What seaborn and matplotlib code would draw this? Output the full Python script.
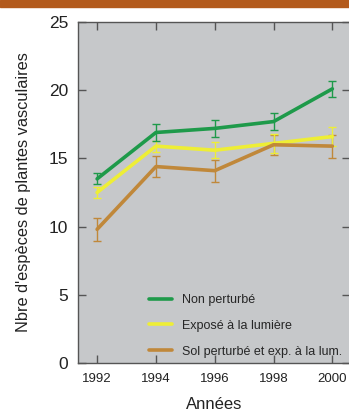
import matplotlib
matplotlib.use("Agg")
import matplotlib.pyplot as plt
import matplotlib.patches as patches
import pandas as pd
import seaborn as sns

annees = [1992, 1994, 1996, 1998, 2000]
series = ["Non perturbé", "Exposé à la lumière", "Sol perturbé et exp. à la lum."]
non_perturbe = [13.5, 16.9, 17.2, 17.7, 20.1]
non_perturbe_err = [0.4, 0.6, 0.6, 0.6, 0.6]
expose = [12.5, 15.9, 15.6, 16.1, 16.6]
expose_err = [0.4, 0.4, 0.6, 0.7, 0.7]
sol_perturbe = [9.8, 14.4, 14.1, 16.0, 15.9]
sol_perturbe_err = [0.85, 0.8, 0.8, 0.75, 0.85]
couleurs = ["#1e9a4a", "#eeee35", "#c0883a"]


def main():
    rows = []
    for name, vals, errs in zip(series,
                                [non_perturbe, expose, sol_perturbe],
                                [non_perturbe_err, expose_err, sol_perturbe_err]):
        for a, v, e in zip(annees, vals, errs):
            rows.append({"annee": a, "n": v, "err": e, "serie": name})
    df = pd.DataFrame(rows)

    sns.set_style("ticks")
    plt.rcParams["font.family"] = ["Liberation Sans", "DejaVu Sans"]

    fig = plt.figure(figsize=(3.49, 4.17), dpi=100)
    fig.patches.append(patches.Rectangle((0, 1 - 7 / 417), 1, 7 / 417,
                                         transform=fig.transFigure,
                                         color="#b35a1c", zorder=0))
    ax = fig.add_axes([78 / 349, 1 - 363 / 417, 272 / 349, 341 / 417])
    ax.set_facecolor("#c6c8ca")

    # error bars first, lines on top (green drawn last)
    for name, col in reversed(list(zip(series, couleurs))):
        d = df[df["serie"] == name]
        ax.errorbar(d["annee"], d["n"], yerr=d["err"], fmt="none",
                    ecolor=col, elinewidth=1, capsize=3.2, capthick=1, zorder=2)

    sns.lineplot(data=df, x="annee", y="n", hue="serie",
                 hue_order=series, palette=couleurs, linewidth=2.6,
                 ax=ax, zorder=3)

    ax.set_xlim(1991.35, 2000.6)
    ax.set_ylim(0, 25)
    ax.set_xticks(annees)
    ax.set_yticks([0, 5, 10, 15, 20, 25])
    ax.tick_params(axis="x", direction="in", length=6, width=1, top=True,
                   labelsize=9.5, pad=7, colors="#555555", labelcolor="#222222")
    ax.tick_params(axis="y", direction="in", length=6, width=1, right=True,
                   labelsize=12.5, pad=7, colors="#555555", labelcolor="#222222")
    for s in ax.spines.values():
        s.set_color("#555555")
        s.set_linewidth(1)

    ax.set_xlabel("Années", fontsize=12, labelpad=9, color="#222222")
    ax.set_ylabel("Nbre d'espèces de plantes vasculaires", fontsize=11.8,
                  labelpad=13, color="#222222")

    leg = ax.legend(loc="lower right", bbox_to_anchor=(0.985, 0.005),
                    borderaxespad=0, borderpad=0.3, frameon=False,
                    fontsize=9, labelspacing=1.1, handlelength=1.85,
                    handletextpad=0.8)
    for line in leg.get_lines():
        line.set_linewidth(2.6)

    fig.savefig("out.png", dpi=100)


if __name__ == "__main__":
    main()
